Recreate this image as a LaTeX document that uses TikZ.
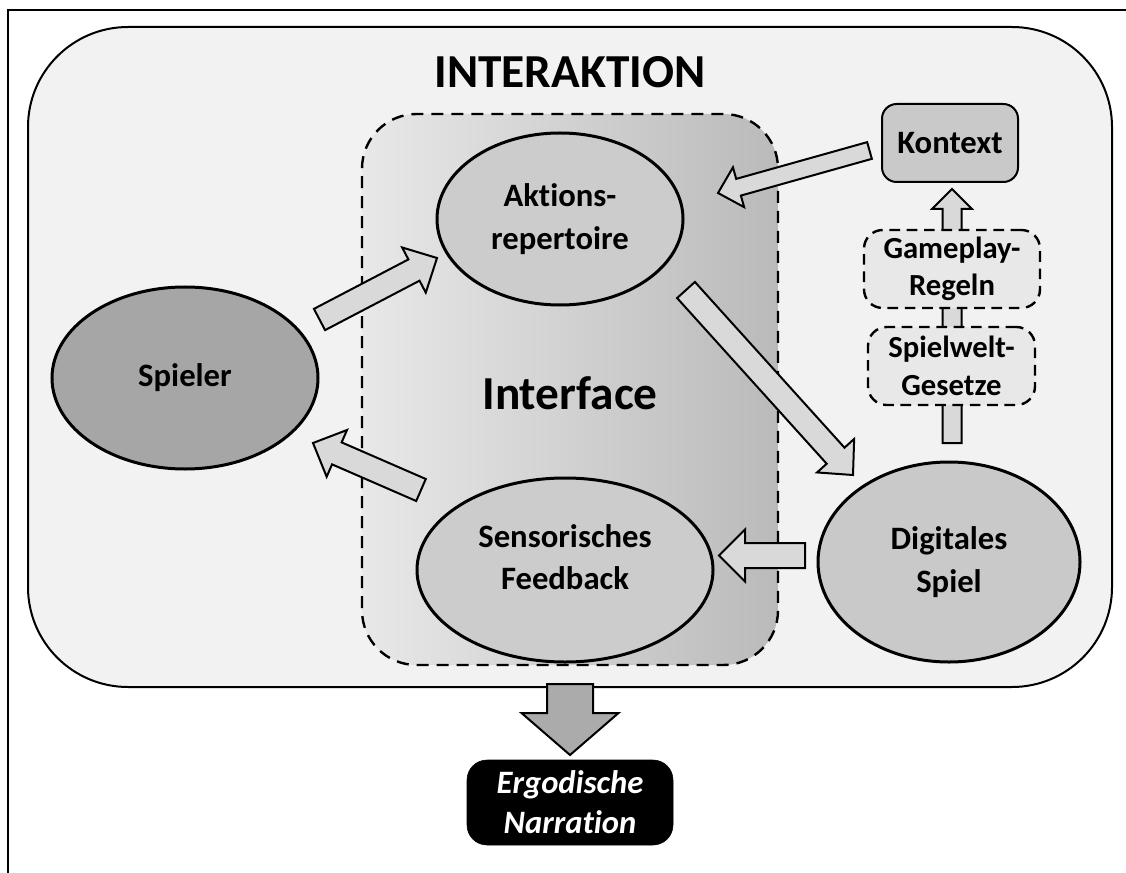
\documentclass[tikz,border=0pt]{standalone}
\usepackage{fontspec}
\setmainfont{Carlito}[Ligatures=NoCommon]
\usetikzlibrary{calc,shapes.geometric}

% block arrow: [style] {tail} {tip} {shaft width} {head width} {head length}
\newcommand\blockarrow[6][]{%
  \coordinate (bahead) at ($(#3)!#6!(#2)$);
  \draw[barrow,#1]
    ($(#2)!#4/2!90:(#3)$) -- ($(bahead)!#4/2!90:(#3)$) --
    ($(bahead)!#5/2!90:(#3)$) -- (#3) --
    ($(bahead)!#5/2!-90:(#3)$) -- ($(bahead)!#4/2!-90:(#3)$) --
    ($(#2)!#4/2!-90:(#3)$) -- cycle;
}

\begin{document}
\begin{tikzpicture}[x=0.75pt,y=-0.75pt,
  txt/.style={font=\bfseries\fontsize{24.5}{32}\selectfont, align=center},
  bigtxt/.style={font=\bfseries\fontsize{35.5}{40}\selectfont},
  oval/.style={ellipse, draw=black, line width=2.25pt, inner sep=0pt, txt},
  solidbox/.style={rectangle, rounded corners=11pt, draw=black, line width=1.5pt, txt},
  dashbox/.style={rectangle, rounded corners=14pt, draw=black, line width=1.8pt,
                  dash pattern=on 8pt off 5pt, fill=black!9, txt,
                  font=\bfseries\fontsize{23}{28}\selectfont},
  barrow/.style={draw=black, line width=1.5pt, fill=black!15, line join=miter},
]
\useasboundingbox (0,0) rectangle (1126,873);
\fill[white] (0,0) rectangle (1126,873);

% page frame
\draw[line width=1.5pt] (8,880) -- (8,10) -- (1135,10);

% interaction area
\node[rectangle, rounded corners=75pt, draw=black, line width=1.5pt, fill=black!5,
      minimum width=813pt, minimum height=495pt] (outer) at (570,357) {};
\node[bigtxt] (title) at (570,72) {INTERAKTION};

% interface area
\node[rectangle, rounded corners=41pt, draw=black, line width=1.8pt,
      dash pattern=on 9pt off 6pt, left color=black!9, right color=black!27,
      minimum width=312pt, minimum height=413.25pt] (iface) at (570,389.5) {};
\node[bigtxt] (ifacelabel) at (570,393) {Interface};

% main elements
\node[oval, fill=black!20, minimum width=184.5pt, minimum height=129pt]
  (aktion) at (560,219) {Aktions-\\repertoire};
\node[oval, fill=black!35, minimum width=199.5pt, minimum height=136.5pt]
  (spieler) at (185,378) {Spieler};
\node[oval, fill=black!20, minimum width=222pt, minimum height=138pt]
  (feedback) at (565,570) {};
\node[txt] (feedbacktext) at (565,557) {Sensorisches\\Feedback};
\node[oval, fill=black!21, minimum width=196.5pt, minimum height=150pt]
  (spiel) at (949,562) {Digitales\\Spiel};

% chain of rules up to the context
\coordinate (a6t) at (952,443); \coordinate (a6h) at (952,189);
\blockarrow{a6t}{a6h}{14.25pt}{30pt}{15pt}
\node[solidbox, fill=black!21, minimum width=102pt, minimum height=58.5pt]
  (kontext) at (950,143) {Kontext};
\node[dashbox, minimum width=132pt, minimum height=58.5pt]
  (regeln) at (952,269) {Gameplay-\\Regeln};
\node[dashbox, minimum width=125.25pt, minimum height=58.5pt]
  (gesetze) at (951.5,366) {Spielwelt-\\Gesetze};

% flow arrows
\coordinate (a1t) at (319.5,319.5); \coordinate (a1h) at (437,258);
\coordinate (a2t) at (869.5,150.5); \coordinate (a2h) at (718,193);
\coordinate (a3t) at (686,290);     \coordinate (a3h) at (853,475);
\coordinate (a4t) at (805,555.5);   \coordinate (a4h) at (719,555.5);
\coordinate (a5t) at (421,490);     \coordinate (a5h) at (313,443);
\coordinate (a7t) at (570,684);     \coordinate (a7h) at (570,755);

\blockarrow{a1t}{a1h}{18pt}{38.25pt}{19.5pt}
\blockarrow{a2t}{a2h}{13pt}{31pt}{16pt}
\blockarrow{a3t}{a3h}{18pt}{37.5pt}{19.5pt}
\blockarrow{a4t}{a4h}{18.75pt}{39pt}{19.5pt}
\blockarrow{a5t}{a5h}{18pt}{38.25pt}{19.5pt}
\blockarrow[fill=black!33]{a7t}{a7h}{34.5pt}{72.75pt}{31.5pt}

% outcome
\node[rectangle, rounded corners=15pt, fill=black, draw=black,
      minimum width=154.5pt, minimum height=63.75pt, text=white, align=center,
      font=\bfseries\itshape\fontsize{24.5}{30}\selectfont]
  (narration) at (570,802.5) {Ergodische\\Narration};
\end{tikzpicture}
\end{document}
